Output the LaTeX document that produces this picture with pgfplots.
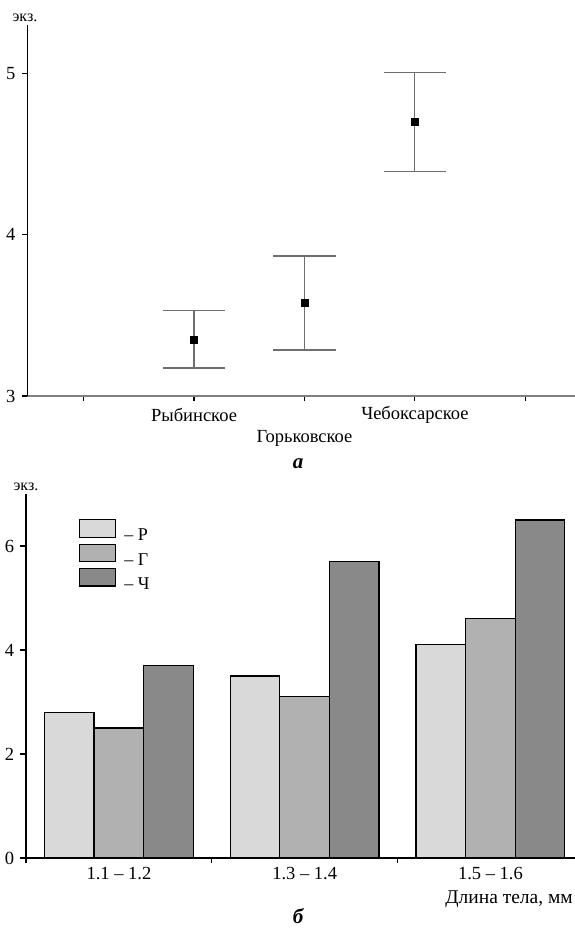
\documentclass[border=0pt]{standalone}
\usepackage{pgfplots}
\pgfplotsset{compat=1.18}
\usepackage{pgfplotstable}
\usepackage{fontspec}
\setmainfont{Liberation Serif}

\definecolor{barR}{HTML}{D9D9D9}
\definecolor{barG}{HTML}{B1B1B1}
\definecolor{barC}{HTML}{898989}
\definecolor{errgray}{HTML}{6E6E6E}

% mean number of specimens per reservoir, with upper and lower error
\pgfplotstableread{
x  y     ep     em
1  3.35  0.180  0.176
2  3.58  0.288  0.295
3  4.70  0.307  0.310
}\meanstable

% specimens by body length class: Р, Г, Ч
\pgfplotstableread{
x  R    G    C
0  2.8  2.5  3.7
1  3.5  3.1  5.7
2  4.1  4.6  6.5
}\lengthtable

\begin{document}
\fontsize{18.5pt}{22pt}\selectfont
\begin{tikzpicture}
\useasboundingbox (0pt,0pt) rectangle (575pt,930pt);
\clip (0pt,0pt) rectangle (575pt,930pt);

\pgfplotsset{
  commonaxis/.style={
    scale only axis,
    anchor=south west,
    axis x line*=bottom,
    axis y line*=left,
    axis line style={-, line width=1.3pt},
    tick align=outside,
    major tick length=5.5pt,
    tick style={line width=1.2pt, black},
    /pgf/number format/assume math mode=true,
    tick label style={font=\fontsize{18.5pt}{22pt}\selectfont},
    clip=false,
  }
}

% panel а: means with error bars
\begin{axis}[commonaxis,
  at={(27.3pt,534pt)}, width=547.7pt, height=371pt,
  xmin=-0.51, xmax=4.45, ymin=3, ymax=5.30,
  xtick={0,1,2,3,4}, xticklabels={},
  ytick={3,4,5},
  x axis line style={gray},
]
\addplot[only marks, mark=square*, mark size=3.6pt, black,
  error bars/.cd, y dir=both, y explicit,
  error bar style={line width=1.2pt, errgray},
  error mark options={rotate=90, mark size=31.3pt, line width=1.2pt, errgray}]
  table[x=x, y=y, y error plus=ep, y error minus=em] {\meanstable};
\node at (axis cs:1,3) [yshift=-19pt] {Рыбинское};
\node at (axis cs:2,3) [yshift=-42pt] {Горьковское};
\node at (axis cs:3,3) [yshift=-19pt] {Чебоксарское};
\end{axis}

% panel б: bars by body length
\begin{axis}[commonaxis,
  at={(26pt,72pt)}, width=549pt, height=364pt,
  xmin=-0.5, xmax=2.455, ymin=0, ymax=7,
  xtick={-0.5,0.5,1.5}, xticklabels={},
  ytick={0,2,4,6},
  ybar, bar width=0.267,
  legend image code/.code={\draw[#1, line width=1.2pt] (0pt,-1pt) rectangle (36pt,16.5pt);},
  legend style={draw=none, fill=none, inner sep=0pt, row sep=0pt,
    at={(axis description cs:0.0965,0.9313)}, anchor=north west,
    nodes={inner sep=0pt},
    /tikz/every odd column/.append style={column sep=8pt},
    /tikz/every row/.append style={row sep=0pt},
    font=\fontsize{18pt}{22pt}\selectfont},
  legend cell align=left,
]
\addplot[bar shift=-0.267, fill=barR, draw=black, line width=1.2pt]
  table[x=x, y=R] {\lengthtable};
\addplot[bar shift=0, fill=barG, draw=black, line width=1.2pt]
  table[x=x, y=G] {\lengthtable};
\addplot[bar shift=0.267, fill=barC, draw=black, line width=1.2pt]
  table[x=x, y=C] {\lengthtable};
\legend{– Р, – Г, – Ч}
\node at (axis cs:0,0) [yshift=-16pt] {1.1 – 1.2};
\node at (axis cs:1,0) [yshift=-16pt] {1.3 – 1.4};
\node at (axis cs:2,0) [yshift=-16pt] {1.5 – 1.6};
\end{axis}

\node[anchor=west, font=\fontsize{19.5pt}{23pt}\selectfont] at (439pt,31pt) {Длина тела, мм};
\node[font=\fontsize{16pt}{19pt}\selectfont] at (25pt,912pt) {экз.};
\node[font=\fontsize{16pt}{19pt}\selectfont] at (26pt,443pt) {экз.};
\node[font=\fontsize{21pt}{24pt}\selectfont\bfseries\itshape] at (298pt,466pt) {а};
\node[font=\fontsize{21pt}{24pt}\selectfont\bfseries\itshape] at (298pt,14pt) {б};
\end{tikzpicture}
\end{document}
